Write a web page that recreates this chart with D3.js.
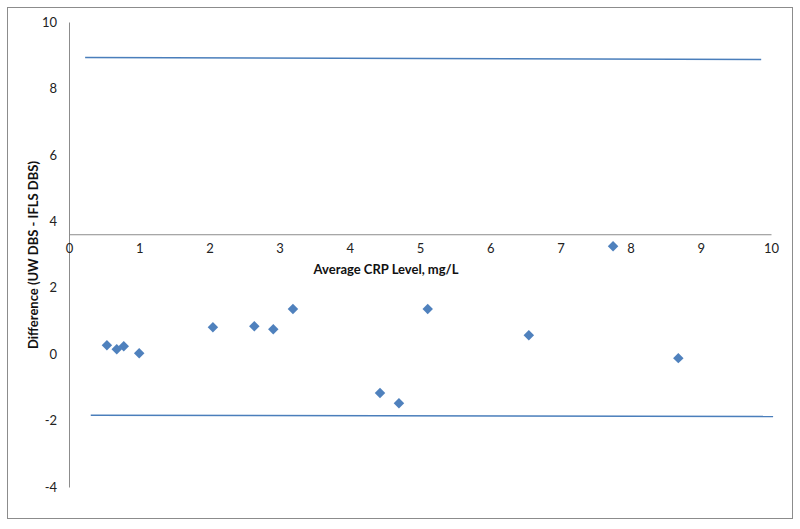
<!DOCTYPE html>
<head>
<meta charset="utf-8">
<script src="https://d3js.org/d3.v7.min.js"></script>
<style>
  body { margin: 0; background: #fff; font-family: Lato, "Open Sans", sans-serif; }
  .axis text { font-size: 13px; fill: #222; font-family: Lato, "Open Sans", sans-serif; }
  .axis path { stroke: #8c8c8c; }
  .title { font-size: 13px; font-weight: bold; fill: #111; }
</style>
</head>
<body>
<script>
// data
var avgCrp = [0.54, 0.68, 0.78, 1.0, 2.05, 2.64, 2.91, 3.19, 4.43, 4.70, 5.11, 6.55, 7.75, 8.68];
var diff   = [0.27, 0.15, 0.24, 0.03, 0.81, 0.84, 0.75, 1.36, -1.17, -1.48, 1.36, 0.57, 3.25, -0.12];
var upperLimit = [[0.23, 8.93], [9.86, 8.87]];
var lowerLimit = [[0.31, -1.84], [10.03, -1.88]];
var xTicks = [0, 1, 2, 3, 4, 5, 6, 7, 8, 9, 10];
var yTicks = [-4, -2, 0, 2, 4, 6, 8, 10];
var xCross = 3.61;

var width = 800, height = 529;

var x = d3.scaleLinear().domain([0, 10]).range([69, 771]);
var y = d3.scaleLinear().domain([-4, 10]).range([487, 22]);
var plain = function(d) { return String(d); };

var svg = d3.select("body").append("svg")
    .attr("width", width)
    .attr("height", height);

svg.append("rect")
    .attr("x", 7.5).attr("y", 7.5)
    .attr("width", 785).attr("height", 511)
    .attr("fill", "#fff")
    .attr("stroke", "#8c8c8c");

// y axis
svg.append("g")
    .attr("class", "axis")
    .attr("transform", "translate(" + x(0) + ",0)")
    .call(d3.axisLeft(y).tickValues(yTicks).tickFormat(plain).tickSize(0).tickPadding(12).tickSizeOuter(0));

// x axis crosses at xCross
svg.append("g")
    .attr("class", "axis")
    .attr("transform", "translate(0," + y(xCross) + ")")
    .call(d3.axisBottom(x).tickValues(xTicks).tickFormat(plain).tickSize(0).tickPadding(10).tickSizeOuter(0));

// limit lines
var line = d3.line().x(function(d) { return x(d[0]); }).y(function(d) { return y(d[1]); });
[upperLimit, lowerLimit].forEach(function(l) {
  svg.append("path")
      .attr("d", line(l))
      .attr("fill", "none")
      .attr("stroke", "#4a7ebb")
      .attr("stroke-width", 1.5);
});

// points
svg.append("g").selectAll("path")
    .data(avgCrp)
    .join("path")
    .attr("d", d3.symbol().type(d3.symbolDiamond2).size(70))
    .attr("transform", function(d, i) { return "translate(" + x(d) + "," + y(diff[i]) + ")"; })
    .attr("fill", "#4f81bd");

svg.append("text")
    .attr("class", "title")
    .attr("x", 386).attr("y", 274)
    .attr("text-anchor", "middle")
    .text("Average CRP Level, mg/L");

svg.append("text")
    .attr("class", "title")
    .attr("transform", "translate(38,255) rotate(-90)")
    .attr("text-anchor", "middle")
    .text("Difference (UW DBS - IFLS DBS)");
</script>
</body>
